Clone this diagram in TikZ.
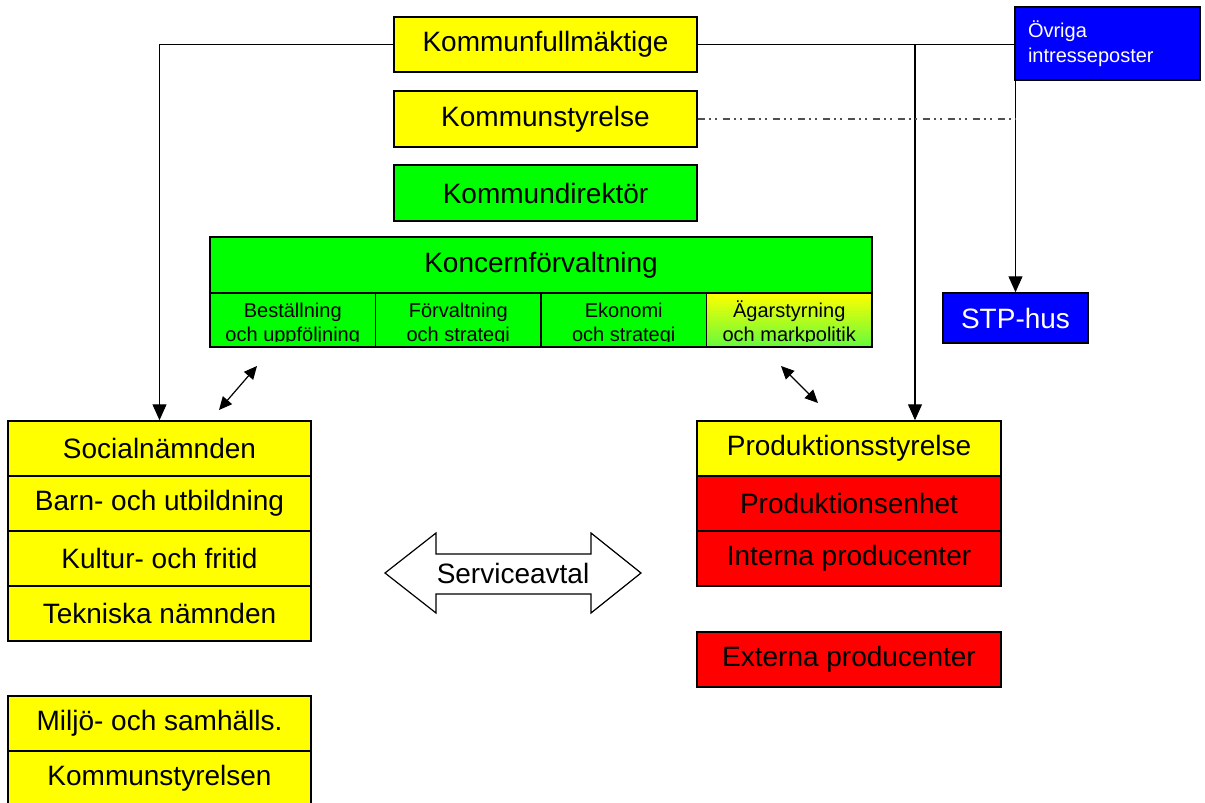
\documentclass[tikz,border=0pt]{standalone}
\usepackage{fontspec}
\setmainfont{Liberation Sans}
\usetikzlibrary{arrows.meta}
\definecolor{yel}{RGB}{255,255,0}
\definecolor{grn}{RGB}{0,255,0}
\definecolor{rd}{RGB}{255,0,0}
\definecolor{bl}{RGB}{0,0,255}
\definecolor{lgrn}{RGB}{100,250,60}
\definecolor{ddgray}{RGB}{80,80,80}
\begin{document}
\begin{tikzpicture}[x=1pt,y=-1pt,
  box/.style={draw=black, line width=1.5pt, inner sep=0pt, minimum height=55pt,
    font=\fontsize{28}{32}\selectfont},
  ybox/.style={box, fill=yel},
  gbox/.style={box, fill=grn},
  rbox/.style={box, fill=rd},
  bbox/.style={box, fill=bl, text=white},
  cellbox/.style={draw=black, line width=1.5pt, fill=grn, inner sep=0pt,
    minimum width=165.5pt, minimum height=54pt},
  celltext/.style={anchor=base, inner sep=0pt, font=\fontsize{20}{23}\selectfont},
  conn/.style={line width=1.2pt, draw=black},
  arr/.style={conn, -{Triangle[length=16pt,width=14pt]}},
  darr/.style={conn, {Triangle[length=13pt,width=12pt]}-{Triangle[length=13pt,width=12pt]}},
  dd/.style={line width=1.1pt, draw=ddgray, dash pattern=on 7pt off 4pt on 2pt off 4pt on 2pt off 6pt}
]
\useasboundingbox (0,0) rectangle (1205,803);

% top column
\node[ybox, minimum width=303pt] (kf) at (545.5,44.5) {Kommunfullmäktige};
\node[ybox, minimum width=303pt, minimum height=56pt] (ks) at (545.5,119) {Kommunstyrelse};
\node[gbox, minimum width=303pt, minimum height=56pt] (kd) at (545.5,193) {Kommundirektör};

% Koncernförvaltning
\node[gbox, minimum width=662pt, minimum height=56pt] (kv) at (541,265) {Koncernförvaltning};
\node[cellbox] (c1) at (292.75,320) {};
\node[cellbox] (c2) at (458.25,320) {};
\node[cellbox] (c3) at (623.75,320) {};
\node[cellbox, top color=yel, bottom color=lgrn] (c4) at (789.25,320) {};
\begin{scope}
  \clip (210,294) rectangle (872,341.5);
  \node[celltext] (t1a) at (292.75,317) {Beställning};
  \node[celltext] (t1b) at (292.75,341) {och uppföljning};
  \node[celltext] (t2a) at (458.25,317) {Förvaltning};
  \node[celltext] (t2b) at (458.25,341) {och strategi};
  \node[celltext] (t3a) at (623.75,317) {Ekonomi};
  \node[celltext] (t3b) at (623.75,341) {och strategi};
  \node[celltext] (t4a) at (789.25,317) {Ägarstyrning};
  \node[celltext] (t4b) at (789.25,341) {och markpolitik};
\end{scope}

% blue boxes
\node[bbox, minimum width=185pt, minimum height=73pt, align=left, text width=159pt,
  font=\fontsize{20}{25}\selectfont] (ov) at (1107.5,43.5) {Övriga\\intresseposter};
\node[bbox, minimum width=145pt, minimum height=50pt] (stp) at (1015.5,318) {STP-hus};

% left stack
\node[ybox, minimum width=303pt] (s1) at (159.5,448.5) {Socialnämnden};
\node[ybox, minimum width=303pt] (s2) at (159.5,503.5) {Barn- och utbildning};
\node[ybox, minimum width=303pt] (s3) at (159.5,558.5) {Kultur- och fritid};
\node[ybox, minimum width=303pt] (s4) at (159.5,613.5) {Tekniska nämnden};
\node[ybox, minimum width=303pt] (m1) at (159.5,723.5) {Miljö- och samhälls.};
\node[ybox, minimum width=303pt] (m2) at (159.5,778.5) {Kommunstyrelsen};

% right stack
\node[ybox, minimum width=304pt] (p1) at (849,448.5) {Produktionsstyrelse};
\node[rbox, minimum width=304pt] (p2) at (849,503.5) {Produktionsenhet};
\node[rbox, minimum width=304pt] (p3) at (849,558.5) {Interna producenter};
\node[rbox, minimum width=304pt] (ext) at (849,659.5) {Externa producenter};

% Serviceavtal double arrow
\draw[line width=1.2pt, fill=white] (385,573) -- (436,533) -- (436,554) -- (591,554) -- (591,533)
  -- (641,573) -- (591,613) -- (591,594) -- (436,594) -- (436,613) -- cycle;
\node[font=\fontsize{28}{32}\selectfont, inner sep=0pt] (sa) at (513,573) {Serviceavtal};

% connectors
\draw[arr] (kf.west) -| (s1.north);
\draw[conn] (kf.east) -- (kf.east -| ov.west);
\coordinate (j) at (915,44.5);
\draw[arr] (j) -- (j |- p1.north);
\draw[arr] (stp.north |- ov.south) -- (stp.north);
\draw[dd] (ks.east) -- (ks.east -| stp.north);

\coordinate (a1) at (219,410);
\coordinate (a2) at (257,366);
\coordinate (b1) at (781,366);
\coordinate (b2) at (818,403);
\draw[darr] (a1) -- (a2);
\draw[darr] (b1) -- (b2);
\end{tikzpicture}
\end{document}
